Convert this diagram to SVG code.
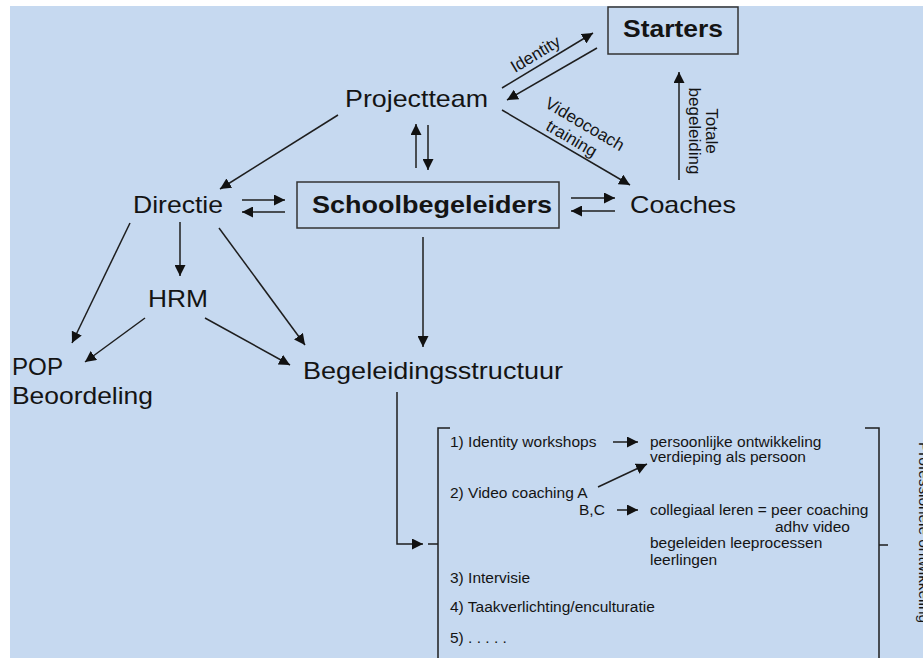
<svg xmlns="http://www.w3.org/2000/svg" width="923" height="658" viewBox="0 0 923 658">
<style>
text{font-family:"Liberation Sans",Arial,sans-serif;fill:#141414}
.big{font-size:24px}
.bold{font-weight:bold}
.lbl{font-size:17px}
.sm{font-size:15.5px}
.ln{stroke:#1e1e1e;stroke-width:1.5;fill:none}
.box{fill:none;stroke:#333;stroke-width:1.5}
</style>
<defs>
<marker id="ah" viewBox="0 0 10 10" refX="10" refY="5" markerWidth="11" markerHeight="11" markerUnits="userSpaceOnUse" orient="auto">
<path d="M0,0 L10,5 L0,10 z" fill="#111"/>
</marker>
</defs>
<rect x="0" y="0" width="923" height="658" fill="#fff"/>
<rect x="10" y="6" width="913" height="652" fill="#c6d9f0"/>

<g id="connectors">
<line class="ln" x1="338" y1="115" x2="220" y2="189" marker-end="url(#ah)"/>
<line class="ln" x1="502" y1="88" x2="593" y2="33" marker-end="url(#ah)"/>
<line class="ln" x1="597" y1="48" x2="507" y2="100" marker-end="url(#ah)"/>
<line class="ln" x1="502" y1="110" x2="630" y2="185" marker-end="url(#ah)"/>
<line class="ln" x1="679" y1="180" x2="679" y2="72" marker-end="url(#ah)"/>
<line class="ln" x1="416" y1="168" x2="416" y2="124" marker-end="url(#ah)"/>
<line class="ln" x1="428" y1="125" x2="428" y2="170" marker-end="url(#ah)"/>
<line class="ln" x1="242" y1="200" x2="285" y2="200" marker-end="url(#ah)"/>
<line class="ln" x1="285" y1="212" x2="242" y2="212" marker-end="url(#ah)"/>
<line class="ln" x1="571" y1="198" x2="615" y2="198" marker-end="url(#ah)"/>
<line class="ln" x1="615" y1="211" x2="571" y2="211" marker-end="url(#ah)"/>
<line class="ln" x1="180" y1="222" x2="180" y2="276" marker-end="url(#ah)"/>
<line class="ln" x1="130" y1="223" x2="72" y2="343" marker-end="url(#ah)"/>
<line class="ln" x1="145" y1="318" x2="85" y2="362" marker-end="url(#ah)"/>
<line class="ln" x1="205" y1="318" x2="290" y2="365" marker-end="url(#ah)"/>
<line class="ln" x1="219" y1="228" x2="305" y2="345" marker-end="url(#ah)"/>
<line class="ln" x1="423" y1="237" x2="423" y2="347" marker-end="url(#ah)"/>
<polyline class="ln" points="397,392 397,544 423,544" marker-end="url(#ah)"/>
<line class="ln" x1="613" y1="442" x2="638" y2="442" marker-end="url(#ah)"/>
<line class="ln" x1="598" y1="487" x2="647" y2="464" marker-end="url(#ah)"/>
<line class="ln" x1="617" y1="510" x2="638" y2="510" marker-end="url(#ah)"/>
</g>

<g id="labels">
<text class="lbl" transform="translate(541.5,64.1) rotate(-31)" y="-6" text-anchor="middle">Identity</text>
<text class="lbl" transform="translate(566.3,147.7) rotate(30.4)" text-anchor="middle"><tspan x="4" y="-24">Videocoach</tspan><tspan x="0" y="-5">training</tspan></text>
<text class="lbl" transform="translate(706,131) rotate(90)" text-anchor="middle">Totale</text>
<text class="lbl" transform="translate(689,131) rotate(90)" text-anchor="middle">begeleiding</text>
</g>

<g id="starters">
<rect class="box" x="608" y="7" width="130" height="47"/>
<text class="big bold" x="623" y="37" textLength="100" lengthAdjust="spacingAndGlyphs">Starters</text>
</g>
<g id="projectteam">
<text class="big" x="345" y="107" textLength="143" lengthAdjust="spacingAndGlyphs">Projectteam</text>
</g>
<g id="directie">
<text class="big" x="133" y="213" textLength="90" lengthAdjust="spacingAndGlyphs">Directie</text>
</g>
<g id="schoolbegeleiders">
<rect class="box" x="297" y="182" width="262" height="46"/>
<text class="big bold" x="312" y="213" textLength="240" lengthAdjust="spacingAndGlyphs">Schoolbegeleiders</text>
</g>
<g id="coaches">
<text class="big" x="630" y="213" textLength="106" lengthAdjust="spacingAndGlyphs">Coaches</text>
</g>
<g id="hrm">
<text class="big" x="148" y="307" textLength="60" lengthAdjust="spacingAndGlyphs">HRM</text>
</g>
<g id="pop">
<text class="big" x="12" y="375" textLength="51" lengthAdjust="spacingAndGlyphs">POP</text>
<text class="big" x="12" y="404" textLength="141" lengthAdjust="spacingAndGlyphs">Beoordeling</text>
</g>
<g id="begeleidingsstructuur">
<text class="big" x="303" y="379" textLength="260" lengthAdjust="spacingAndGlyphs">Begeleidingsstructuur</text>
</g>

<g id="structuurlijst">
<path class="ln" d="M450,428 H438 V658 M428,544 H438"/>
<path class="ln" d="M865,428 H879 V658 M879,545 H888"/>
<text class="sm" x="450" y="447">1) Identity workshops</text>
<text class="sm" x="650" y="447">persoonlijke ontwikkeling</text>
<text class="sm" x="650" y="462">verdieping als persoon</text>
<text class="sm" x="450" y="498">2) Video coaching A</text>
<text class="sm" x="579" y="515">B,C</text>
<text class="sm" x="650" y="515">collegiaal leren = peer coaching</text>
<text class="sm" x="775" y="532">adhv video</text>
<text class="sm" x="650" y="548">begeleiden leeprocessen</text>
<text class="sm" x="650" y="565">leerlingen</text>
<text class="sm" x="450" y="583">3) Intervisie</text>
<text class="sm" x="450" y="612">4) Taakverlichting/enculturatie</text>
<text class="sm" x="450" y="643">5) . . . . .</text>
<text class="sm" transform="translate(919,442) rotate(90)" textLength="181" lengthAdjust="spacingAndGlyphs">Professionele ontwikkeling</text>
</g>
</svg>
